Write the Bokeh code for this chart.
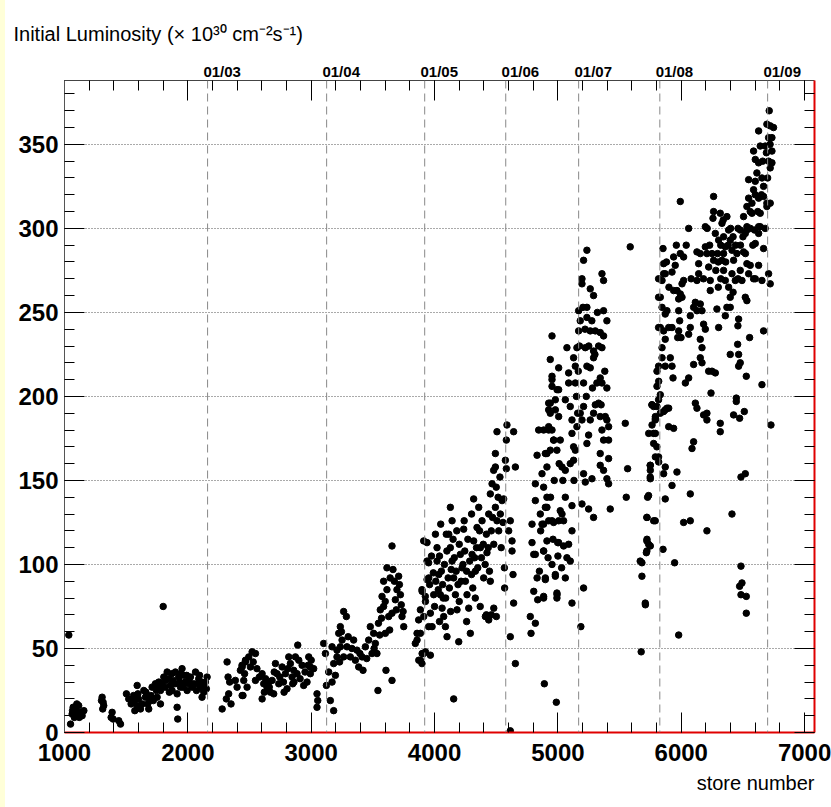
from bokeh.plotting import figure
from bokeh.models import (Range1d, LinearAxis, SingleIntervalTicker, FixedTicker, Span, Title, Spacer)
from bokeh.layouts import row
from bokeh.embed import file_html
from bokeh.resources import INLINE

# ---------------- data (store number, initial luminosity) ----------------
run_2002 = [(1035,58),(1800,75),(1049,5),(1062,11),(1089,14),(1100,17),(1130,12),(1143,10),(1157,13),
    (1305,21),(1313,18),(1318,16),(1386,12),(1394,8),(1378,9),(1440,7),(1454,5),(1502,23),(1521,20),
    (1540,17),(1562,19),(1589,16),(1616,14),(1589,28),(1643,25),(1656,21),(1675,17),(1683,14),(1710,27),
    (1737,29),(1764,30),(1778,25),(1751,21),(1778,17),(1805,33),(1832,36),(1845,32),(1859,28),(1872,25),
    (1899,36),(1926,33),(1953,38),(1967,34),(1980,30),(1994,25),(1940,27),(1913,23),(1913,15),(1918,8),
    (2021,33),(2048,29),(2062,36),(2088,32),(2102,27),(2129,24),(2142,30),(2156,33),(2115,21),
    (1070,15),(1115,16),(1120,9),(1300,19),(1310,14),(1560,22),(1600,20),(1630,17),(1660,24),(1700,22),
    (1720,19),(1745,25),(1790,29),(1815,27),(1850,24),(1880,31),(1895,29),(1935,30),(1960,27),(1990,34),
    (2005,29),(2035,27),(2070,25),(2095,34),(2110,30),(2135,28),(2150,26),(1570,13),(1595,23),(1690,19),
    (1760,27),(1820,31),(1870,35),(1945,35),(2010,31),(2080,29),(2120,26),(1065,13),(1080,9),(1095,12)]

run_2003 = [(2278,14),(2312,20),(2331,23),(2350,17),(2318,42),(2326,33),(2339,30),(2385,31),(2399,27),
    (2426,37),(2439,40),(2447,22),(2466,42),(2440,39),(2467,43),(2494,45),(2521,48),(2548,47),(2453,31),
    (2480,27),(2440,22),(2507,39),(2548,31),(2602,35),(2615,29),(2602,20),(2642,27),(2669,24),(2696,23),
    (2710,41),(2723,35),(2737,29),(2683,31),(2764,39),(2791,35),(2804,26),(2818,45),(2831,41),(2845,33),
    (2858,37),(2872,45),(2891,52),(2899,43),(2926,40),(2939,28),(2966,30),(2980,45),(2993,39),(2993,35),
    (3047,23),(3053,19),(3047,15),(2460,35),(2530,42),(2560,38),(2580,33),(2630,32),(2655,30),(2700,36),
    (2745,33),(2775,30),(2810,38),(2860,30),(2885,35),(2910,32),(2950,36),(2975,40),(3000,43),(3020,38),
    (2620,24),(2660,27),(2850,29),(2780,24)]

run_2004 = [(3101,53),(3115,47),(3123,28),(3142,36),(3155,19),(3182,13),(3169,51),(3182,41),(3196,34),
    (3209,49),(3223,59),(3236,63),(3250,55),(3263,72),(3285,69),(3290,51),(3263,45),(3236,51),(3209,45),
    (3169,30),(3317,45),(3344,55),(3358,43),(3371,49),(3385,39),(3412,45),(3420,37),(3439,51),(3466,55),
    (3479,63),(3506,59),(3520,53),(3533,47),(3555,58),(3493,47),(3560,73),(3574,81),(3587,90),(3587,75),
    (3614,85),(3614,98),(3628,69),(3601,59),(3655,111),(3663,97),(3674,90),(3682,79),(3695,85),(3709,93),
    (3723,82),(3736,69),(3750,63),(3655,71),(3636,61),(3606,37),(3655,31),(3541,25),(3230,42),(3245,60),
    (3300,57),(3330,50),(3395,47),(3450,44),(3510,50),(3545,65),(3570,68),(3600,78),(3640,92),(3690,73),
    (3715,88),(3730,76),(3745,72),(3844,53),(3858,59),(3871,67),(3885,73),(3898,85)]

run_2005 = [(3912,114),(3939,113),(3952,101),(3939,91),(3925,81),(3912,47),(3885,43),(3898,41),(3952,63),
    (3858,55),(3872,43),(3899,47),(3926,48),(3966,46),(3885,59),(3912,69),(3939,102),(3953,92),(3899,84),
    (3926,78),(3966,71),(3980,63),(3993,82),(4007,118),(4020,110),(4020,102),(4034,94),(4047,82),(4061,74),
    (4074,69),(4088,63),(4101,57),(4115,118),(4128,134),(4142,126),(4128,110),(4142,102),(4155,92),
    (4169,82),(4182,73),(4196,54),(4209,106),(4223,98),(4236,121),(4250,90),(4263,82),(4277,74),(4290,59),
    (4304,106),(4317,114),(4317,139),(4331,96),(4344,122),(4358,134),(4371,110),(4385,126),(4398,92),
    (4412,69),(4439,67),(4425,107),(4452,90),(4439,130),(4452,142),(4466,148),(4479,156),(4493,166),
    (4493,158),(4506,179),(4493,134),(4506,126),(4520,120),(4501,69),(4533,130),(4547,138),(4560,139),
    (4566,98),(4568,86),(4155,20),(3960,88),(3975,105),(3990,95),(4000,75),(4010,90),(4030,85),(4040,105),
    (4055,96),(4065,88),(4080,100),(4090,80),(4100,108),(4110,92),(4120,86),(4135,97),(4150,115),(4160,104),
    (4175,96),(4190,88),(4200,112),(4215,90),(4230,100),(4245,108),(4260,96),(4270,115),(4285,102),
    (4300,94),(4310,86),(4325,104),(4340,110),(4350,98),(4365,120),(4380,104),(4395,112),(4410,100),
    (4420,118),(4435,110),(4445,96),(4460,120),(4470,128),(4480,112),(4500,146),(4515,140),(4530,152),
    (4540,110),(4555,125),(4040,66),(4070,80),(4130,72),(4200,78),(4260,66),(4330,80),(4370,75),(4420,70),
    (4460,70),(4480,74),(4050,124),(4095,118),(4180,120),(4240,126),(4300,130)]

run_2006 = [(4574,162),(4582,174),(4587,183),(4582,157),(4601,120),(4614,126),(4628,114),(4628,108),
    (4636,94),(4641,179),(4655,158),(4641,77),(4614,57),(4655,41),(4614,1),(4776,69),(4782,59),(4790,113),
    (4790,124),(4804,106),(4817,106),(4804,84),(4817,65),(4831,92),(4836,79),(4817,138),(4817,148),
    (4831,165),(4844,180),(4857,130),(4871,124),(4884,146),(4884,108),(4898,91),(4884,80),(4911,166),
    (4911,158),(4925,192),(4911,134),(4925,180),(4938,196),(4952,210),(4966,174),(4952,126),(4952,100),
    (4979,93),(4993,82),(4998,113),(4993,204),(5006,217),(4890,29),(4987,18),(4884,180),(4925,182),
    (4938,168),(4898,166),(4871,154),(4911,140),(4898,134),(4925,126),(4884,124),(4965,125),(5006,126),
    (5019,132),(5033,130),(5046,126),(4911,114),(4884,108),(4898,92),(4979,94),(4884,81),(4992,83),
    (4992,80),(5006,113),(5046,111),(5087,112),(5073,104),(5100,102),(5060,92),(5114,77),(5114,120),
    (5114,135),(4952,236),(4938,222),(4952,212),(4952,206),(4979,198),(5006,204),(4979,192),(5006,188),
    (4925,196),(4938,190),(4952,180),(4965,174),(4992,168),(5019,174),(5033,158),(5060,156),(5060,198),
    (5073,229),(5087,214),(5087,208),(5100,194),(5114,186),(5114,178),(5127,170),(5127,162),(5141,208),
    (5127,223),(5154,229),(5141,218),(5154,182),(5141,168),(5130,150),(5100,160),(5060,140),(5040,150),
    (5010,160),(4970,150),(4940,140),(4960,115),(5000,105),(5030,98),(4920,104),(4860,120),(4850,96)]

run_2007 = [(5168,239),(5168,251),(5181,245),(5195,267),(5195,270),(5208,281),(5235,287),(5203,253),
    (5235,247),(5262,239),(5303,239),(5343,238),(5370,236),(5357,229),(5397,245),(5370,251),(5357,273),
    (5370,269),(5262,264),(5289,260),(5235,253),(5222,229),(5289,227),(5289,223),(5235,218),(5262,217),
    (5343,211),(5357,208),(5316,208),(5397,205),(5208,208),(5208,194),(5181,190),(5195,186),(5262,186),
    (5303,195),(5289,190),(5330,196),(5343,188),(5384,188),(5397,186),(5411,182),(5357,180),(5370,174),
    (5249,177),(5235,172),(5411,174),(5343,166),(5411,163),(5343,159),(5370,156),(5397,151),(5411,148),
    (5208,154),(5222,149),(5276,151),(5195,136),(5249,133),(5289,128),(5424,133),(5546,184),(5565,157),
    (5554,140),(5586,289),(5186,63),(5208,86),(5150,200),(5165,215),(5175,230),(5220,240),(5250,230),
    (5275,245),(5300,225),(5320,250),(5330,230),(5380,215),(5160,190),(5230,200),(5280,205),(5350,195),
    (5667,102),(5681,93),(5708,77),(5675,48),(5721,128),(5721,114),(5735,112),(5721,108),(5735,141),
    (5748,159),(5748,152),(5789,126),(5762,195),(5775,178),(5789,186),(5802,170),(5816,164),(5816,198),
    (5816,218),(5816,241),(5816,259),(5816,270)]

run_2008 = [(5776,194),(5803,194),(5790,188),(5830,190),(5857,191),(5884,193),(5803,215),(5817,209),
    (5830,201),(5803,206),(5844,223),(5844,229),(5870,218),(5911,223),(5925,218),(5933,211),(5830,259),
    (5844,253),(5870,249),(5884,251),(5830,241),(5870,234),(5898,241),(5925,241),(5857,239),(5852,288),
    (5857,279),(5857,273),(5844,269),(5870,273),(5938,283),(5951,278),(5925,274),(5938,263),(5965,263),
    (5992,261),(6006,267),(6019,269),(6006,259),(5979,258),(5992,285),(6019,283),(5992,316),(5979,251),
    (5987,245),(5979,239),(5971,235),(5998,235),(6033,208),(6060,211),(6100,219),(6073,241),(6060,237),
    (6127,286),(6141,279),(6141,273),(6127,269),(6154,285),(6195,289),(6208,285),(6222,277),(6235,269),
    (6235,263),(6249,285),(6262,281),(6195,301),(6262,319),(6262,310),(6257,306),(6073,248),(6114,256),
    (6127,251),(6154,255),(6168,251),(6181,243),(6154,234),(6168,229),(6154,223),(6168,220),(6195,240),
    (6100,253),(6222,215),(6249,215),(6276,214),(6241,202),(5763,195),(5870,192),(5898,193),(5763,183),
    (5790,178),(5776,172),(5736,178),(5898,182),(5938,181),(5790,187),(5790,164),(5817,161),(5749,159),
    (5749,156),(5870,158),(5857,154),(5749,151),(5965,155),(5925,147),(5727,140),(5870,139),(6073,142),
    (5722,128),(5776,126),(6019,125),(6073,126),(6208,120),(5722,115),(5749,111),(5717,107),(5852,109),
    (5681,101),(5946,101),(5709,76),(5979,58),(6114,196),(6127,193),(6181,189),(6208,190),(6208,186),
    (6316,184),(6316,179),(6100,173),(6087,169),(6040,290),(6060,300),(6080,270),(5960,290),(5900,265),
    (5880,280),(6180,270),(6210,300),(6230,290)]

run_2009 = [(6289,252),(6303,241),(6316,309),(6330,303),(6343,295),(6357,289),(6370,307),(6384,299),
    (6397,293),(6411,287),(6330,281),(6343,275),(6357,269),(6384,265),(6397,259),(6411,273),(6424,281),
    (6438,269),(6370,253),(6397,253),(6276,297),(6303,293),(6294,285),(6357,248),(6343,285),(6451,285),
    (6478,275),(6492,269),(6505,307),(6519,297),(6532,299),(6505,286),(6532,279),(6546,273),(6559,278),
    (6586,270),(6600,270),(6519,259),(6532,257),(6465,246),(6459,242),(6594,299),(6627,297),(6627,301),
    (6600,291),(6667,288),(6627,278),(6654,269),(6708,273),(6721,267),(6667,239),(6554,235),(6465,225),
    (6457,231),(6397,225),(6465,218),(6478,220),(6527,212),(6446,199),(6654,207),(6713,370),(6694,362),
    (6721,361),(6748,360),(6627,358),(6708,354),(6735,354),(6681,349),(6640,349),(6586,346),(6735,346),
    (6600,341),(6627,339),(6708,340),(6735,339),(6613,333),(6721,336),(6546,329),(6600,328),(6654,330),
    (6586,323),(6667,325),(6546,318),(6573,315),(6600,320),(6627,318),(6694,315),(6721,315),(6532,313),
    (6559,310),(6573,309),(6640,309),(6667,319),(6694,313),(6532,301),(6640,301),(6478,299),(6411,130),
    (6424,189),(6473,187),(6511,191),(6446,197),(6484,152),(6519,154),(6484,99),(6492,89),(6473,87),
    (6484,82),(6527,81),(6527,71),(6727,183),(6280,275),(6300,280),(6320,290),(6340,305),(6360,280),
    (6380,290),(6400,300),(6420,295),(6440,290),(6460,300),(6480,290),(6500,295),(6520,285),(6300,265),
    (6320,270),(6420,262),(6460,270),(6560,300),(6580,290),(6620,310),(6650,320),(6680,300),(6700,330),
    (6690,345),(6660,340),(6720,350)]

date_labels = ["01/03", "01/04", "01/05", "01/06", "01/07", "01/08", "01/09"]
date_stores = [2160, 3125, 3920, 4577, 5168, 5826, 6700]

x_range = (1000, 7080)
y_range = (0, 388)

y_title = "Initial Luminosity (\u00d7 10\u00b3\u2070 cm\u207b\u00b2s\u207b\u00b9)"
x_title = "store number"

points = run_2002 + run_2003 + run_2004 + run_2005 + run_2006 + run_2007 + run_2008 + run_2009
stores = [p[0] for p in points]
lumi = [p[1] for p in points]

FONT = "Liberation Sans"

p = figure(width=826, height=807, output_backend="svg", toolbar_location=None,
           x_range=Range1d(*x_range), y_range=Range1d(*y_range),
           x_axis_location=None, y_axis_location=None,
           min_border_left=59, min_border_right=17, min_border_top=80, min_border_bottom=75)
p.outline_line_color = None
p.background_fill_color = "white"
p.border_fill_color = "white"

xt = SingleIntervalTicker(interval=1000, num_minor_ticks=5)
yt = SingleIntervalTicker(interval=50, num_minor_ticks=5)

def style_axis(ax, line_color, line_width, show_labels):
    ax.axis_line_color = line_color
    ax.axis_line_width = line_width
    ax.major_tick_in = 20
    ax.major_tick_out = 0
    ax.minor_tick_in = 10
    ax.minor_tick_out = 0
    ax.major_tick_line_color = "black"
    ax.minor_tick_line_color = "black"
    if show_labels:
        ax.major_label_text_font = FONT
        ax.major_label_text_font_style = "bold"
        ax.major_label_text_font_size = "24px"
        ax.major_label_text_color = "black"
    else:
        ax.major_label_text_font_size = "1px"
        ax.major_label_text_color = None
        ax.major_label_standoff = 0

bottom = LinearAxis(ticker=xt)
style_axis(bottom, "#e00000", 2, True)
bottom.major_label_standoff = 11
p.add_layout(bottom, "below")

top = LinearAxis(ticker=xt)
style_axis(top, "#444444", 1, False)
p.add_layout(top, "above")

# date labels on the top edge (left-aligned at their dashed line)
pad = "\u00a0" * 7
date_axis = LinearAxis(ticker=FixedTicker(ticks=date_stores),
                       major_label_overrides={st: pad + lab for st, lab in zip(date_stores, date_labels)})
date_axis.axis_line_color = None
date_axis.major_tick_in = 0
date_axis.major_tick_out = 0
date_axis.minor_tick_in = 0
date_axis.minor_tick_out = 0
date_axis.major_label_standoff = 1
date_axis.major_label_text_font = FONT
date_axis.major_label_text_font_style = "bold"
date_axis.major_label_text_font_size = "15px"
date_axis.major_label_text_color = "black"
p.add_layout(date_axis, "above")

p.add_layout(Title(text=y_title, align="left", offset=-51, standoff=29,
                   text_font=FONT, text_font_size="20px", text_font_style="normal",
                   text_color="black"), "above")

left = LinearAxis(ticker=yt)
style_axis(left, "#555555", 1, True)
left.major_label_standoff = 6
p.add_layout(left, "left")

right = LinearAxis(ticker=yt)
style_axis(right, "#e00000", 2, False)
p.add_layout(right, "right")

p.add_layout(Title(text=x_title, align="right", standoff=13,
                   text_font=FONT, text_font_size="20px", text_font_style="normal",
                   text_color="black"), "below")

p.xgrid.visible = False
p.ygrid.ticker = yt
p.ygrid.grid_line_color = "#555555"
p.ygrid.grid_line_dash = "1 2"
p.ygrid.grid_line_width = 1

for st in date_stores:
    p.add_layout(Span(location=st, dimension="height", line_color="#888888",
                      line_dash="8 5", line_width=1))

p.scatter(stores, lumi, marker="circle", size=6.5, color="black")

strip = Spacer(width=5, height=807, styles={"background-color": "#ffffd8"})
layout = row(strip, p, spacing=0)

open("out.html", "w").write(file_html(layout, INLINE))
